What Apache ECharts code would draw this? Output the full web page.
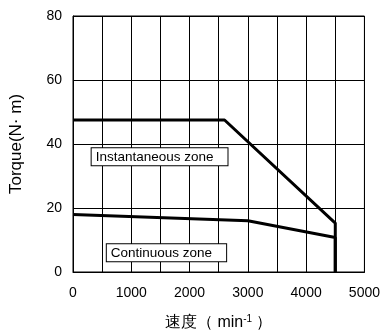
<!DOCTYPE html>
<html style="height: 100%">
<head>
	<meta charset="utf-8">
</head>
<body style="height: 100%; margin: 0; background: #fff">
	<div id="container" style="width: 383px; height: 336px"></div>
	<script type="text/javascript" src="https://cdn.jsdelivr.net/npm/echarts@6/dist/echarts.min.js"></script>
	<script type="text/javascript">
		// speed (min^-1) / torque (N·m)
		let instSpeed = [0, 2600, 4500, 4500];
		let instTorque = [47.5, 47.5, 15.3, 0];
		let contSpeed = [0, 3000, 4500, 4500];
		let contTorque = [18, 16, 10.8, 0];
		let zoneLabels = ['Instantaneous zone', 'Continuous zone'];
		let zoneAnchor = [[320, 38.7], [580, 8.7]];

		let dom = document.getElementById("container");
		let myChart = echarts.init(dom);
		let font = 'Liberation Sans, Arial, sans-serif';

		function pairs(xs, ys) {
			let out = [];
			for (let i = 0; i < xs.length; i++) out.push([xs[i], ys[i]]);
			return out;
		}

		let option = {
			animation: false,
			grid: {
				left: 73, right: 16, top: 16, bottom: 62,
				show: true, borderColor: '#000', borderWidth: 1
			},
			xAxis: {
				type: 'value', min: 0, max: 5000, interval: 1000,
				name: '速度（ min{sup|-1} ）',
				nameLocation: 'middle', nameGap: 42,
				nameTextStyle: {
					color: '#000', fontSize: 16, fontFamily: font,
					rich: { sup: { fontSize: 10, verticalAlign: 'top', padding: [0, 0, 8, 0], color: '#000' } }
				},
				axisLine: { show: true, lineStyle: { color: '#000' } },
				axisTick: { show: false },
				axisLabel: {
					color: '#000', fontSize: 14, fontFamily: font, margin: 14,
					formatter: function (v) { return String(v); }
				},
				splitLine: { show: true, lineStyle: { color: '#000', width: 1 } },
				minorTick: { show: false, splitNumber: 2 },
				minorSplitLine: { show: true, lineStyle: { color: '#000', width: 1 } }
			},
			yAxis: {
				type: 'value', min: 0, max: 80, interval: 20,
				name: 'Torque(N· m)',
				nameLocation: 'middle', nameGap: 48,
				nameTextStyle: { color: '#000', fontSize: 17, fontFamily: font },
				axisLine: { show: true, lineStyle: { color: '#000' } },
				axisTick: { show: false },
				axisLabel: { color: '#000', fontSize: 14, fontFamily: font, margin: 11 },
				splitLine: { show: true, lineStyle: { color: '#000', width: 1 } }
			},
			series: [
				{
					name: 'Instantaneous', type: 'line', symbol: 'none',
					lineStyle: { color: '#000', width: 3 },
					data: pairs(instSpeed, instTorque)
				},
				{
					name: 'Continuous', type: 'line', symbol: 'none',
					lineStyle: { color: '#000', width: 3 },
					data: pairs(contSpeed, contTorque)
				}
			]
		};
		myChart.setOption(option);

		// zone boxes placed from data coords
		let graphics = [];
		for (let i = 0; i < zoneLabels.length; i++) {
			let p = myChart.convertToPixel({ gridIndex: 0 }, zoneAnchor[i]);
			graphics.push({
				type: 'text', x: p[0], y: p[1], z: 10,
				style: {
					text: zoneLabels[i], fill: '#000', fontSize: 13.5, fontFamily: font,
					backgroundColor: '#fff', borderColor: '#000', borderWidth: 1,
					padding: [2, 14, 1, 4]
				}
			});
		}
		myChart.setOption({ graphic: graphics });
	</script>
</body>
</html>
